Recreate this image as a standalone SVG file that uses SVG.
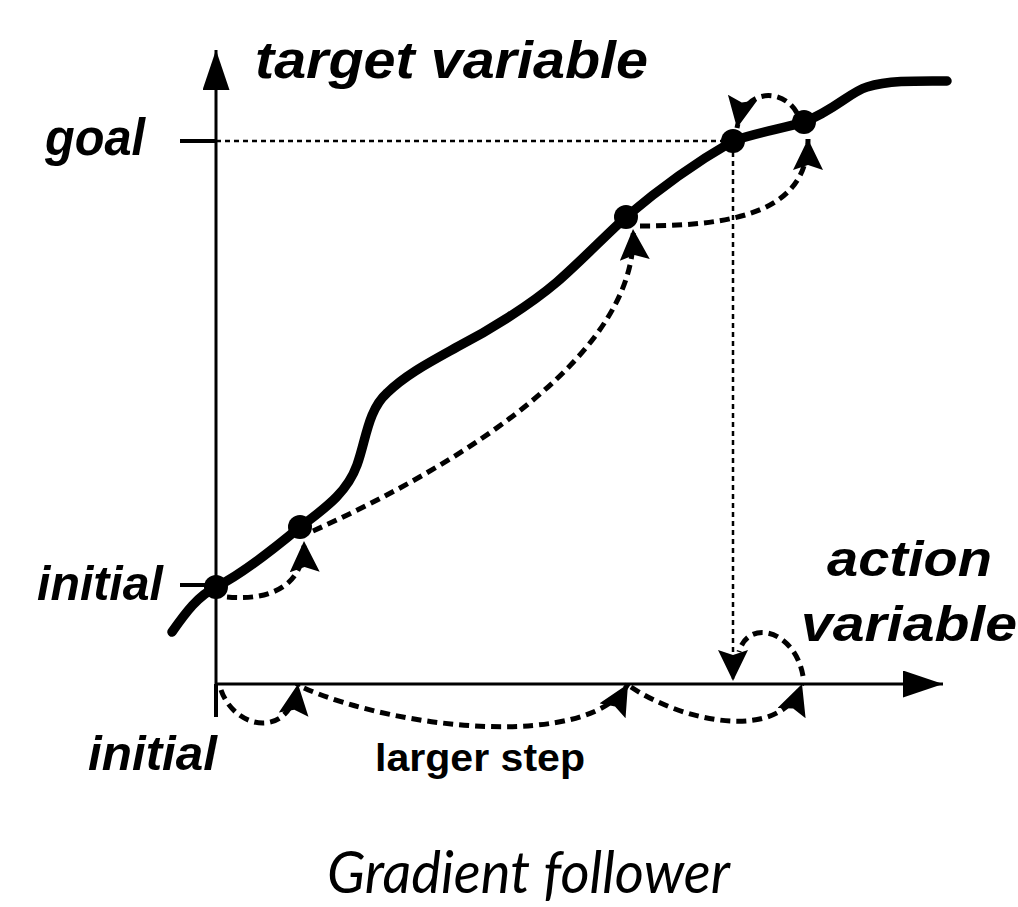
<svg xmlns="http://www.w3.org/2000/svg" width="1018" height="907" viewBox="0 0 1018 907">
  <style>
    .axis { stroke: #000; stroke-width: 3; fill: none; }
    .tick { stroke: #000; stroke-width: 4; fill: none; }
    .guide { stroke: #000; stroke-width: 2.5; stroke-dasharray: 5 4; fill: none; }
    .step { stroke: #000; stroke-width: 5; stroke-dasharray: 10 6; fill: none; }
    .curve { stroke: #000; stroke-width: 9.5; fill: none; stroke-linecap: round; stroke-linejoin: round; }
    .dot { fill: #000; }
    .lbl { font-family: "Liberation Sans", Arial, sans-serif; font-weight: bold; font-style: italic; fill: #000; }
    .plain { font-family: "Liberation Sans", Arial, sans-serif; font-weight: bold; fill: #000; }
    .caption { font-family: Lato, "Open Sans", sans-serif; font-style: italic; fill: #000; }
  </style>
  <defs>
    <marker id="head" markerUnits="userSpaceOnUse" markerWidth="34" markerHeight="32" refX="31" refY="15" orient="auto">
      <path d="M0,0 L31,15 L0,30 L5,15 z" fill="#000"/>
    </marker>
    <marker id="axisHead" markerUnits="userSpaceOnUse" markerWidth="42" markerHeight="30" refX="40" refY="13.5" orient="auto">
      <path d="M0,0 L40,13.5 L0,27 z" fill="#000"/>
    </marker>
  </defs>

  <!-- axes -->
  <g id="axes">
    <path class="axis" d="M216,717 L216,50" marker-end="url(#axisHead)"/>
    <path class="axis" d="M216,684 L943,684" marker-end="url(#axisHead)"/>
    <path class="tick" d="M216,684 L216,717"/>
    <path class="tick" d="M180,141 L216,141"/>
    <path class="tick" d="M180,585 L216,585"/>
  </g>

  <!-- response curve -->
  <g id="curve">
    <path class="curve" d="M172,632 C186,612 198,596 216,587 C240,575 270,552 300,527 C330,505 348,490 357,465 C366,440 368,410 387,393 C405,375 430,362 457,347 C490,330 530,305 557,282 C580,262 605,236 626,217 C660,188 700,160 733,141 C755,133 785,128 804,122 C835,110 850,92 867,87 C890,80 920,81 947,81"/>
  </g>

  <!-- steps and guides -->
  <g id="connectors">
    <path class="guide" d="M216,141 L724,141"/>
    <path class="guide" d="M733,152 L733,681" marker-end="url(#head)"/>
    <path class="step" d="M227,597 C270,601 305,586 304,541" marker-end="url(#head)"/>
    <path class="step" d="M313,531 C470,460 640,350 633,229" marker-end="url(#head)"/>
    <path class="step" d="M640,226 C740,226 808,210 808,139" marker-end="url(#head)"/>
    <path class="step" d="M797,113 C785,90 745,85 737,128" marker-end="url(#head)"/>
    <path class="step" d="M221,690 C235,730 290,740 298,684" marker-end="url(#head)"/>
    <path class="step" d="M304,688 C400,730 590,750 628,684" marker-end="url(#head)"/>
    <path class="step" d="M631,687 C680,720 780,745 802,684" marker-end="url(#head)"/>
    <path class="step" d="M803,676 C795,630 748,618 739,652"/>
  </g>

  <!-- points on the curve -->
  <g id="p0"><circle class="dot" cx="216" cy="587" r="12"/></g>
  <g id="p1"><circle class="dot" cx="300" cy="527" r="12"/></g>
  <g id="p2"><circle class="dot" cx="626" cy="217" r="12"/></g>
  <g id="p3"><circle class="dot" cx="733" cy="141" r="12"/></g>
  <g id="p4"><circle class="dot" cx="804" cy="122" r="12"/></g>

  <!-- labels -->
  <g id="labels">
    <text class="lbl" x="255" y="78" font-size="51" textLength="393" lengthAdjust="spacingAndGlyphs">target variable</text>
    <text class="lbl" x="45" y="155" font-size="52" textLength="100" lengthAdjust="spacingAndGlyphs">goal</text>
    <text class="lbl" x="37" y="600" font-size="48" textLength="126" lengthAdjust="spacingAndGlyphs">initial</text>
    <text class="lbl" x="88" y="770" font-size="48" textLength="129" lengthAdjust="spacingAndGlyphs">initial</text>
    <text class="lbl" x="827" y="576" font-size="50" textLength="165" lengthAdjust="spacingAndGlyphs">action</text>
    <text class="lbl" x="801" y="641" font-size="50" textLength="216" lengthAdjust="spacingAndGlyphs">variable</text>
    <text class="plain" x="375" y="771" font-size="38" textLength="210" lengthAdjust="spacingAndGlyphs">larger step</text>
    <text class="caption" x="327" y="893" font-size="58" textLength="403" lengthAdjust="spacingAndGlyphs">Gradient follower</text>
  </g>
</svg>
